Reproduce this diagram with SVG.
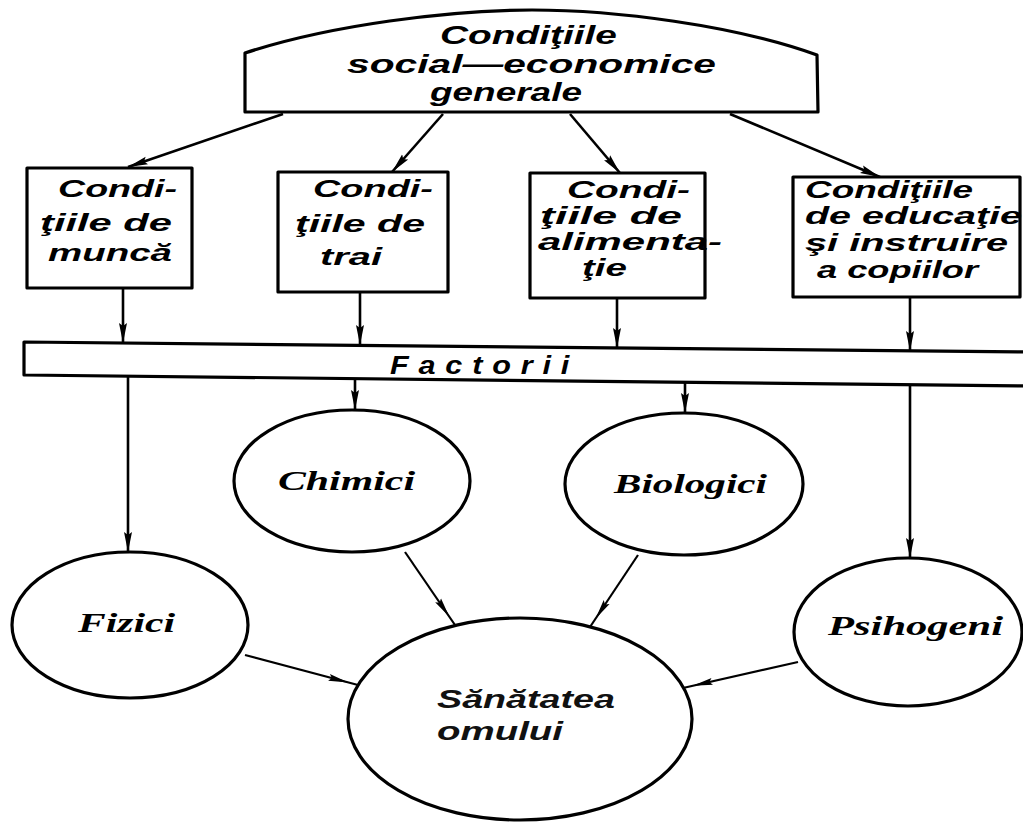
<svg xmlns="http://www.w3.org/2000/svg" width="1023" height="823" viewBox="0 0 1023 823">
  <style>
    .shape { fill: #ffffff; stroke: #000000; stroke-width: 3.2; stroke-linejoin: round; }
    .link { fill: none; stroke: #000000; stroke-width: 2.6; }
    .thin { fill: none; stroke: #000000; stroke-width: 2.2; }
    .hdr { font-family: "Liberation Sans", "DejaVu Sans", sans-serif; font-weight: bold; font-style: italic; font-size: 25px; fill: #000; }
    .box { font-family: "Liberation Sans", "DejaVu Sans", sans-serif; font-weight: bold; font-style: italic; font-size: 24px; fill: #000; }
    .bar { font-family: "Liberation Sans", "DejaVu Sans", sans-serif; font-weight: bold; font-style: italic; font-size: 25px; letter-spacing: 8px; fill: #000; }
    .lbl { font-family: "Liberation Serif", "DejaVu Serif", serif; font-weight: bold; font-style: italic; font-size: 27px; fill: #000; }
    .res { font-family: "Liberation Sans", "DejaVu Sans", sans-serif; font-weight: bold; font-style: italic; font-size: 25px; fill: #111; }
  </style>
  <defs>
    <marker id="head" viewBox="0 0 20 10" refX="20" refY="5" markerWidth="20" markerHeight="10" markerUnits="userSpaceOnUse" orient="auto">
      <path d="M0,1 L20,5 L0,9 L3,5 Z" fill="#000"/>
    </marker>
    <marker id="headMid" viewBox="0 0 20 10" refX="30" refY="5" markerWidth="20" markerHeight="10" markerUnits="userSpaceOnUse" orient="auto">
      <path d="M0,1.5 L20,5 L0,8.5 L3,5 Z" fill="#000"/>
    </marker>
  </defs>

  <rect width="1023" height="823" fill="#ffffff"/>

  <!-- connectors -->
  <g id="connectors">
    <line class="link" x1="283" y1="114" x2="128" y2="167" marker-end="url(#head)"/>
    <line class="link" x1="443" y1="114" x2="392" y2="172" marker-end="url(#head)"/>
    <line class="link" x1="570" y1="114" x2="620" y2="173" marker-end="url(#head)"/>
    <line class="link" x1="730" y1="114" x2="880" y2="177" marker-end="url(#head)"/>

    <line class="link" x1="123" y1="288" x2="123" y2="343" marker-end="url(#head)"/>
    <line class="link" x1="360" y1="292" x2="360" y2="345" marker-end="url(#head)"/>
    <line class="link" x1="617" y1="298" x2="617" y2="348" marker-end="url(#head)"/>
    <line class="link" x1="910" y1="297" x2="910" y2="351" marker-end="url(#head)"/>

    <line class="link" x1="128" y1="376" x2="128" y2="552" marker-end="url(#head)"/>
    <line class="link" x1="355" y1="379" x2="355" y2="410" marker-end="url(#head)"/>
    <line class="link" x1="685" y1="382" x2="685" y2="413" marker-end="url(#head)"/>
    <line class="link" x1="910" y1="385" x2="910" y2="558" marker-end="url(#head)"/>

    <line class="thin" x1="405" y1="552" x2="455" y2="625" marker-end="url(#headMid)"/>
    <line class="thin" x1="638" y1="555" x2="590" y2="627" marker-end="url(#headMid)"/>
    <line class="thin" x1="245" y1="655" x2="358" y2="685" marker-end="url(#headMid)"/>
    <line class="thin" x1="798" y1="662" x2="683" y2="688" marker-end="url(#headMid)"/>
  </g>

  <!-- general socio-economic conditions -->
  <g id="conditii-generale">
    <path class="shape" d="M245,112 L245,53 C330,25 450,10 532,10 C614,10 734,25 817,55 L818,112 Z"/>
    <text class="hdr" x="440" y="44" textLength="177" lengthAdjust="spacingAndGlyphs">Condiţiile</text>
    <text class="hdr" x="347" y="73" textLength="369" lengthAdjust="spacingAndGlyphs">social—economice</text>
    <text class="hdr" x="430" y="101" textLength="152" lengthAdjust="spacingAndGlyphs">generale</text>
  </g>

  <g id="munca">
    <rect class="shape" x="27" y="168" width="165" height="120"/>
    <text class="box" x="58" y="197" textLength="119" lengthAdjust="spacingAndGlyphs">Condi-</text>
    <text class="box" x="40" y="231" textLength="132" lengthAdjust="spacingAndGlyphs">ţiile de</text>
    <text class="box" x="48" y="261" textLength="124" lengthAdjust="spacingAndGlyphs">muncă</text>
  </g>

  <g id="trai">
    <rect class="shape" x="278" y="172" width="170" height="120"/>
    <text class="box" x="313" y="197" textLength="120" lengthAdjust="spacingAndGlyphs">Condi-</text>
    <text class="box" x="295" y="232" textLength="130" lengthAdjust="spacingAndGlyphs">ţiile de</text>
    <text class="box" x="320" y="265" textLength="62" lengthAdjust="spacingAndGlyphs">trai</text>
  </g>

  <g id="alimentatie">
    <rect class="shape" x="530" y="173" width="175" height="125"/>
    <text class="box" x="567" y="198" textLength="123" lengthAdjust="spacingAndGlyphs">Condi-</text>
    <text class="box" x="540" y="224" textLength="142" lengthAdjust="spacingAndGlyphs">ţiile de</text>
    <text class="box" x="538" y="250" textLength="184" lengthAdjust="spacingAndGlyphs">alimenta-</text>
    <text class="box" x="582" y="276" textLength="45" lengthAdjust="spacingAndGlyphs">ţie</text>
  </g>

  <g id="educatie">
    <rect class="shape" x="793" y="177" width="227" height="120"/>
    <text class="box" x="805" y="198" textLength="168" lengthAdjust="spacingAndGlyphs">Condiţiile</text>
    <text class="box" x="805" y="224" textLength="217" lengthAdjust="spacingAndGlyphs">de educaţie</text>
    <text class="box" x="805" y="251" textLength="203" lengthAdjust="spacingAndGlyphs">şi instruire</text>
    <text class="box" x="817" y="278" textLength="161" lengthAdjust="spacingAndGlyphs">a copiilor</text>
  </g>

  <g id="factorii">
    <polygon class="shape" points="24,342 1030,352 1030,386 24,375"/>
    <text class="bar" x="390" y="374" textLength="189" lengthAdjust="spacingAndGlyphs">Factorii</text>
  </g>

  <g id="chimici">
    <ellipse class="shape" cx="352" cy="481" rx="118" ry="71"/>
    <text class="lbl" x="278" y="490" textLength="137" lengthAdjust="spacingAndGlyphs">Chimici</text>
  </g>

  <g id="biologici">
    <ellipse class="shape" cx="684" cy="484" rx="119" ry="71"/>
    <text class="lbl" x="614" y="493" textLength="153" lengthAdjust="spacingAndGlyphs">Biologici</text>
  </g>

  <g id="fizici">
    <ellipse class="shape" cx="130" cy="625" rx="118" ry="73"/>
    <text class="lbl" x="78" y="632" textLength="97" lengthAdjust="spacingAndGlyphs">Fizici</text>
  </g>

  <g id="psihogeni">
    <ellipse class="shape" cx="908" cy="632" rx="114" ry="74"/>
    <text class="lbl" x="828" y="635" textLength="175" lengthAdjust="spacingAndGlyphs">Psihogeni</text>
  </g>

  <g id="sanatatea">
    <ellipse class="shape" cx="520" cy="719" rx="172" ry="101"/>
    <text class="res" x="437" y="708" textLength="178" lengthAdjust="spacingAndGlyphs">Sănătatea</text>
    <text class="res" x="437" y="740" textLength="126" lengthAdjust="spacingAndGlyphs">omului</text>
  </g>
</svg>
